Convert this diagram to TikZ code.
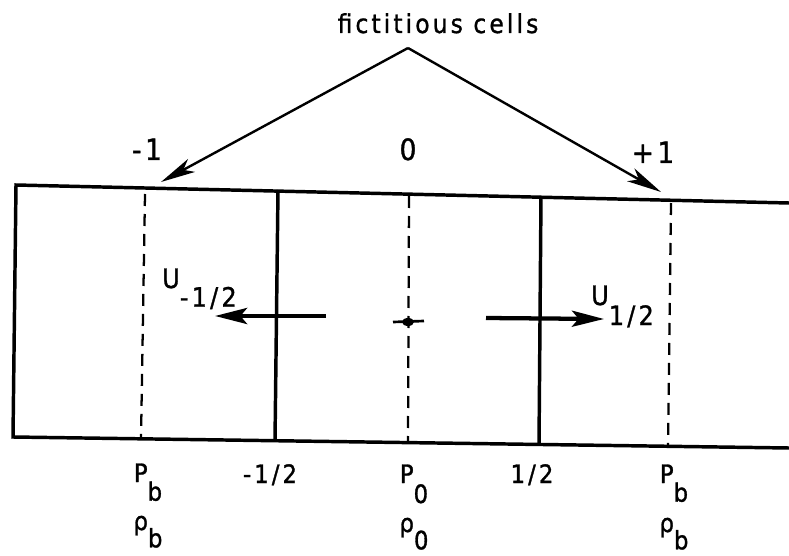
\documentclass[tikz,border=0pt]{standalone}
\usepackage{fontspec}
\setmainfont{DejaVu Sans Condensed}[LetterSpace=12, FakeBold=1.2]
\usetikzlibrary{arrows.meta}

\newcommand{\lowsub}[2][13.5pt]{\raisebox{-#1}{#2}}

\begin{document}
\begin{tikzpicture}[
    x=0.75pt,
    y=-0.75pt,
    wall/.style={
        line width=2.6pt
    },
    ghost/.style={
        line width=1.7pt,
        dash pattern=on 9pt off 6pt
    },
    flux/.style={
        line width=3.2pt,
        -{Stealth[length=24pt,width=12pt,inset=5pt]}
    },
    pointer/.style={
        line width=1.8pt,
        -{Stealth[length=26pt,width=11pt,inset=7pt]}
    },
    toplab/.style={
        font=\fontsize{22}{24}\selectfont,
        anchor=base
    },
    botlab/.style={
        font=\fontsize{19}{20}\selectfont,
        anchor=base
    },
    sublab/.style={
        font=\fontsize{20}{20}\selectfont,
        anchor=base west,
        inner sep=0pt
    }
]

    \useasboundingbox (0,0) rectangle (789,556);

    % Domain box, open to the right
    \coordinate (TL) at (16,185);
    \coordinate (BL) at (13,437);
    \coordinate (TR) at (789,203);
    \coordinate (BR) at (789,448);
    \draw[wall] (TR) -- (TL) -- (BL) -- (BR);

    % Cell faces
    \foreach \xt/\yt/\xb/\yb in {278/190/275/441, 541/196/539/445}
        \draw[wall] (\xt,\yt) -- (\xb,\yb);

    % Cell centres
    \foreach \xt/\yt/\xb/\yb in {145/194/141/439, 409/196/408/443, 671/203/668/446}
        \draw[ghost] (\xt,\yt) -- (\xb,\yb);

    % Pointers to fictitious cells
    \node[font=\fontsize{19.5}{22}\selectfont, anchor=base] (fict) at (438,33)
        {fictitious cells};
    \coordinate (apex) at (408,48);
    \coordinate (ghostL) at (161,182);
    \coordinate (ghostR) at (661,192);
    \draw[pointer] (apex) -- (ghostL);
    \draw[pointer] (apex) -- (ghostR);

    % Cell indices
    \node[toplab] (im) at (147,160) {-1};
    \node[toplab] (i0) at (408,160) {0};
    \node[toplab] (ip) at (653,163) {+1};

    % Face velocities
    \coordinate (um0) at (326,316);
    \coordinate (um1) at (215,316);
    \coordinate (up0) at (486,318);
    \coordinate (up1) at (604,319);
    \draw[flux] (um0) -- (um1);
    \draw[flux] (up0) -- (up1);
    \node[sublab] (um) at (162,288) {U\lowsub[14pt]{-1/2}};
    \node[sublab] (up) at (591,305) {U\lowsub[15pt]{1/2}};

    % Centre point
    \fill (408,322) ellipse (6 and 4);
    \draw[line width=2pt] (393,322) -- (424,321);

    % Bottom labels
    \node[botlab] (pl) at (148,482) {P\lowsub[14pt]{b}};
    \node[botlab] (fl) at (270,483) {-1/2};
    \node[botlab] (p0) at (414,483) {P\lowsub[15pt]{0}};
    \node[botlab] (fr) at (532,483) {1/2};
    \node[botlab] (pr) at (674,483) {P\lowsub[14pt]{b}};

    \node[botlab] (rl) at (148,530) {ρ\lowsub[13pt]{b}};
    \node[botlab] (r0) at (414,532) {ρ\lowsub[13pt]{0}};
    \node[botlab] (rr) at (674,532) {ρ\lowsub[13pt]{b}};

\end{tikzpicture}
\end{document}
